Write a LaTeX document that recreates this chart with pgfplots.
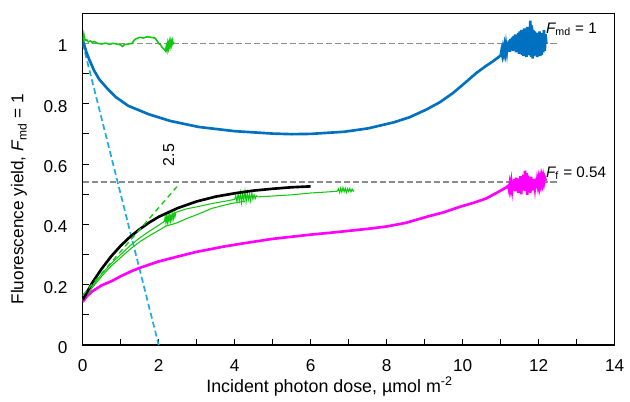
\documentclass[border=0pt]{standalone}
\usepackage{pgfplots}
\pgfplotsset{compat=1.18}
\usepackage{fontspec}
\setmainfont{Liberation Sans}
\definecolor{myblue}{HTML}{0070C0}
\definecolor{lblue}{HTML}{1CADE4}
\definecolor{mag}{HTML}{FF00FF}
\definecolor{grn}{HTML}{11C811}
\definecolor{gry}{HTML}{8C8C8C}
\begin{document}
\fontsize{13}{15}\selectfont
\begin{tikzpicture}
\begin{axis}[
  name=ax,
  scale only axis,
  width=402.15pt, height=250.8pt,
  xmin=0, xmax=14, ymin=0, ymax=1.1,
  xtick={0,2,...,14}, minor xtick={1,3,...,13},
  ytick={0,0.2,...,1.0}, minor ytick={0.1,0.3,...,0.9},
  tick align=inside, xtick pos=bottom, ytick pos=left,
  major tick length=4.5pt, minor tick length=4.5pt,
  every tick/.style={black, line width=0.8pt},
  axis line style={line width=1pt},
  /pgf/number format/assume math mode=true,
  xticklabel style={font=\fontsize{13}{15}\selectfont, yshift=-6.5pt},
  yticklabel style={font=\fontsize{13}{15}\selectfont, xshift=-7pt, yshift=-2pt},
  yticklabel={\pgfmathprintnumber[fixed,precision=1]{\tick}},
  xlabel={Incident photon dose, µmol m\textsuperscript{-2}},
  ylabel={Fluorescence yield, {\itshape F}\textsubscript{md} = 1},
  xlabel style={at={(axis description cs:0.464,-0.124)}, anchor=center, font=\fontsize{13.5}{15}\selectfont},
  ylabel style={at={(axis description cs:-0.12,0.439)}, anchor=center, rotate=0, font=\fontsize{13}{15}\selectfont},
]
% reference levels
\addplot[gry, line width=1.2pt, dash pattern=on 5pt off 1.8pt] coordinates {(0,1) (12.5,1)};
\addplot[gry, line width=1.2pt, dash pattern=on 5pt off 1.8pt] coordinates {(0,0.54) (12.5,0.54)};
% light blue dashed line
\addplot[lblue, line width=1.3pt, dash pattern=on 4.5pt off 2.5pt] coordinates {(0,1.0) (2.0,0)};
% magenta
\addplot[mag, line width=2pt] coordinates {
(0,0.143) (0.1,0.16) (0.25,0.178) (0.5,0.198) (0.78,0.213) (1.0,0.228) (1.25,0.243) (1.48,0.255)
(2.0,0.277) (2.52,0.294) (3.0,0.309) (3.74,0.327) (4.27,0.338) (5.0,0.352) (6.0,0.366) (6.5,0.372)
(7.49,0.385) (8.0,0.393) (8.5,0.405) (9.05,0.425) (9.5,0.44) (9.92,0.458) (10.3,0.472) (10.62,0.486)
(10.9,0.505) (11.14,0.522)
(11.20,0.528) (11.22,0.515) (11.24,0.535) (11.26,0.520) (11.28,0.540) (11.30,0.518) (11.32,0.545)
(11.34,0.515) (11.36,0.550) (11.38,0.510) (11.40,0.555) (11.42,0.520) (11.44,0.548) (11.46,0.505)
(11.48,0.552) (11.50,0.515) (11.52,0.560) (11.54,0.500) (11.56,0.558) (11.58,0.512) (11.60,0.565)
(11.62,0.520) (11.64,0.578) (11.66,0.510) (11.68,0.570) (11.70,0.498) (11.72,0.562) (11.74,0.515)
(11.76,0.555) (11.78,0.505) (11.80,0.558) (11.82,0.522) (11.84,0.550) (11.86,0.512) (11.88,0.548)
(11.90,0.525) (11.92,0.552) (11.94,0.520) (11.96,0.545) (11.98,0.528) (12.00,0.548) (12.02,0.530)
(12.04,0.552) (12.06,0.535) (12.08,0.555) (12.10,0.538) (12.12,0.556) (12.14,0.540) (12.16,0.555)
(12.18,0.548) (12.20,0.550)};
% blue
\addplot[myblue, line width=2pt] coordinates {
(0,1.01) (0.04,0.995) (0.1,0.97) (0.175,0.946) (0.3,0.91) (0.44,0.88) (0.65,0.85) (0.87,0.822)
(1.2,0.793) (1.74,0.765) (2.3,0.743) (3.05,0.723) (4.0,0.709) (5.0,0.701) (5.5,0.699) (6.0,0.700)
(6.88,0.707) (7.5,0.718) (8.18,0.738) (8.6,0.755) (9.05,0.781) (9.4,0.805) (9.75,0.836) (10.05,0.868)
(10.36,0.902) (10.6,0.924) (10.79,0.940) (11.0,0.960)
(11.02,0.975) (11.04,0.962) (11.06,0.982) (11.08,0.968) (11.10,0.990) (11.12,0.972) (11.14,0.995)
(11.16,0.975) (11.18,1.005) (11.20,0.978) (11.22,1.010) (11.24,0.972) (11.26,1.015) (11.28,0.980)
(11.30,1.020) (11.32,0.975) (11.34,1.025) (11.36,0.985) (11.38,1.030) (11.40,0.970) (11.42,1.028)
(11.44,0.978) (11.46,1.035) (11.48,0.965) (11.50,1.040) (11.52,0.975) (11.54,1.045) (11.56,0.962)
(11.58,1.038) (11.60,0.958) (11.62,1.050) (11.64,0.970) (11.66,1.042) (11.68,0.955) (11.70,1.055)
(11.72,0.965) (11.74,1.048) (11.76,0.960) (11.78,1.075) (11.80,0.955) (11.82,1.060) (11.84,0.950)
(11.86,1.045) (11.88,0.958) (11.90,1.040) (11.92,0.962) (11.94,1.035) (11.96,0.955) (11.98,1.030)
(12.00,0.965) (12.02,1.040) (12.04,0.958) (12.06,1.030) (12.08,0.962) (12.10,1.035) (12.12,0.970)
(12.14,1.045) (12.16,0.975) (12.18,1.030) (12.20,1.000)};
% green top
\addplot[grn, line width=1.2pt] coordinates {
(0,1.005) (0.03,1.03) (0.06,1.01) (0.1,1.012) (0.15,1.005) (0.2,1.008) (0.25,1.003) (0.3,1.006)
(0.4,1.0) (0.5,0.998) (0.6,1.001) (0.7,0.997) (0.8,1.0) (0.9,0.998) (1.0,0.995) (1.05,0.99)
(1.1,0.996) (1.2,0.998) (1.3,1.0) (1.35,1.01) (1.4,1.015) (1.5,1.02) (1.6,1.018) (1.7,1.022)
(1.8,1.02) (1.9,1.018) (1.95,1.01) (2.0,1.0) (2.05,0.995) (2.1,0.985) (2.15,0.98) (2.18,0.975)
(2.2,0.99) (2.22,0.978) (2.24,1.0) (2.26,0.985) (2.28,1.005) (2.3,0.99) (2.32,1.008) (2.34,0.995)
(2.36,1.01) (2.38,1.0) (2.4,1.005)};
% green lower B
\addplot[grn, line width=0.8pt] coordinates {
(0,0.148) (0.25,0.19) (0.5,0.228) (0.75,0.262) (1.0,0.29) (1.25,0.318) (1.5,0.342) (1.75,0.362)
(2.0,0.38) (2.2,0.395) (2.44,0.403) (2.75,0.42) (3.0,0.432) (3.4,0.453) (3.8,0.466) (4.0,0.471) (4.27,0.477)};
% green upper A
\addplot[grn, line width=0.8pt] coordinates {
(0,0.152) (0.25,0.195) (0.5,0.235) (0.75,0.27) (1.0,0.30) (1.25,0.33) (1.5,0.355) (1.75,0.377)
(2.0,0.397) (2.15,0.41)
(2.17,0.425) (2.19,0.405) (2.21,0.428) (2.23,0.408) (2.25,0.43) (2.27,0.41) (2.29,0.432) (2.31,0.412)
(2.33,0.43) (2.35,0.415) (2.37,0.435) (2.39,0.42) (2.41,0.438) (2.43,0.425) (2.45,0.44)
(2.75,0.452) (3.0,0.458) (3.4,0.469) (3.8,0.478) (4.00,0.483)
(4.03,0.495) (4.06,0.475) (4.09,0.500) (4.12,0.478) (4.15,0.505) (4.18,0.472) (4.21,0.502) (4.24,0.480)
(4.27,0.510) (4.30,0.475) (4.33,0.505) (4.36,0.482) (4.39,0.500) (4.42,0.478) (4.45,0.505) (4.48,0.483)
(4.51,0.498) (4.54,0.485) (4.57,0.495) (4.60,0.491)
(5.0,0.494) (5.5,0.498) (6.0,0.504) (6.5,0.508) (6.70,0.510)
(6.73,0.518) (6.76,0.505) (6.79,0.520) (6.82,0.507) (6.85,0.522) (6.88,0.508) (6.91,0.520) (6.94,0.506)
(6.97,0.518) (7.00,0.509) (7.03,0.519) (7.06,0.508) (7.09,0.517) (7.12,0.510) (7.14,0.513)};
% black fit
\addplot[black, line width=2pt] coordinates {
(0,0.150) (0.25,0.206) (0.5,0.253) (0.75,0.294) (1,0.329) (1.25,0.359) (1.5,0.384) (1.75,0.406)
(2,0.425) (2.5,0.454) (3,0.476) (3.5,0.492) (4,0.503) (4.5,0.512) (5,0.518) (5.5,0.523) (6,0.526)};
% green dashed tangent
\addplot[grn, line width=1pt, dash pattern=on 4pt off 3pt] coordinates {(0,0.165) (2.48,0.525)};
% annotations
\node[anchor=base west, inner sep=0pt, font=\fontsize{11.5}{13}\selectfont] at (axis cs:12.19,1.034) {{\itshape F}\textsubscript{md} = 1};
\node[anchor=base west, inner sep=0pt, font=\fontsize{11.5}{13}\selectfont] at (axis cs:12.19,0.557) {{\itshape F}\textsubscript{f} = 0.54};
\node[rotate=90, anchor=center, inner sep=0pt, font=\fontsize{12}{14}\selectfont] at (axis cs:2.26,0.63) {2.5};
\end{axis}
\path ([xshift=-62.5pt,yshift=-37.7pt]ax.south west) rectangle ([xshift=7.9pt,yshift=10pt]ax.north east);
\end{tikzpicture}
\end{document}
